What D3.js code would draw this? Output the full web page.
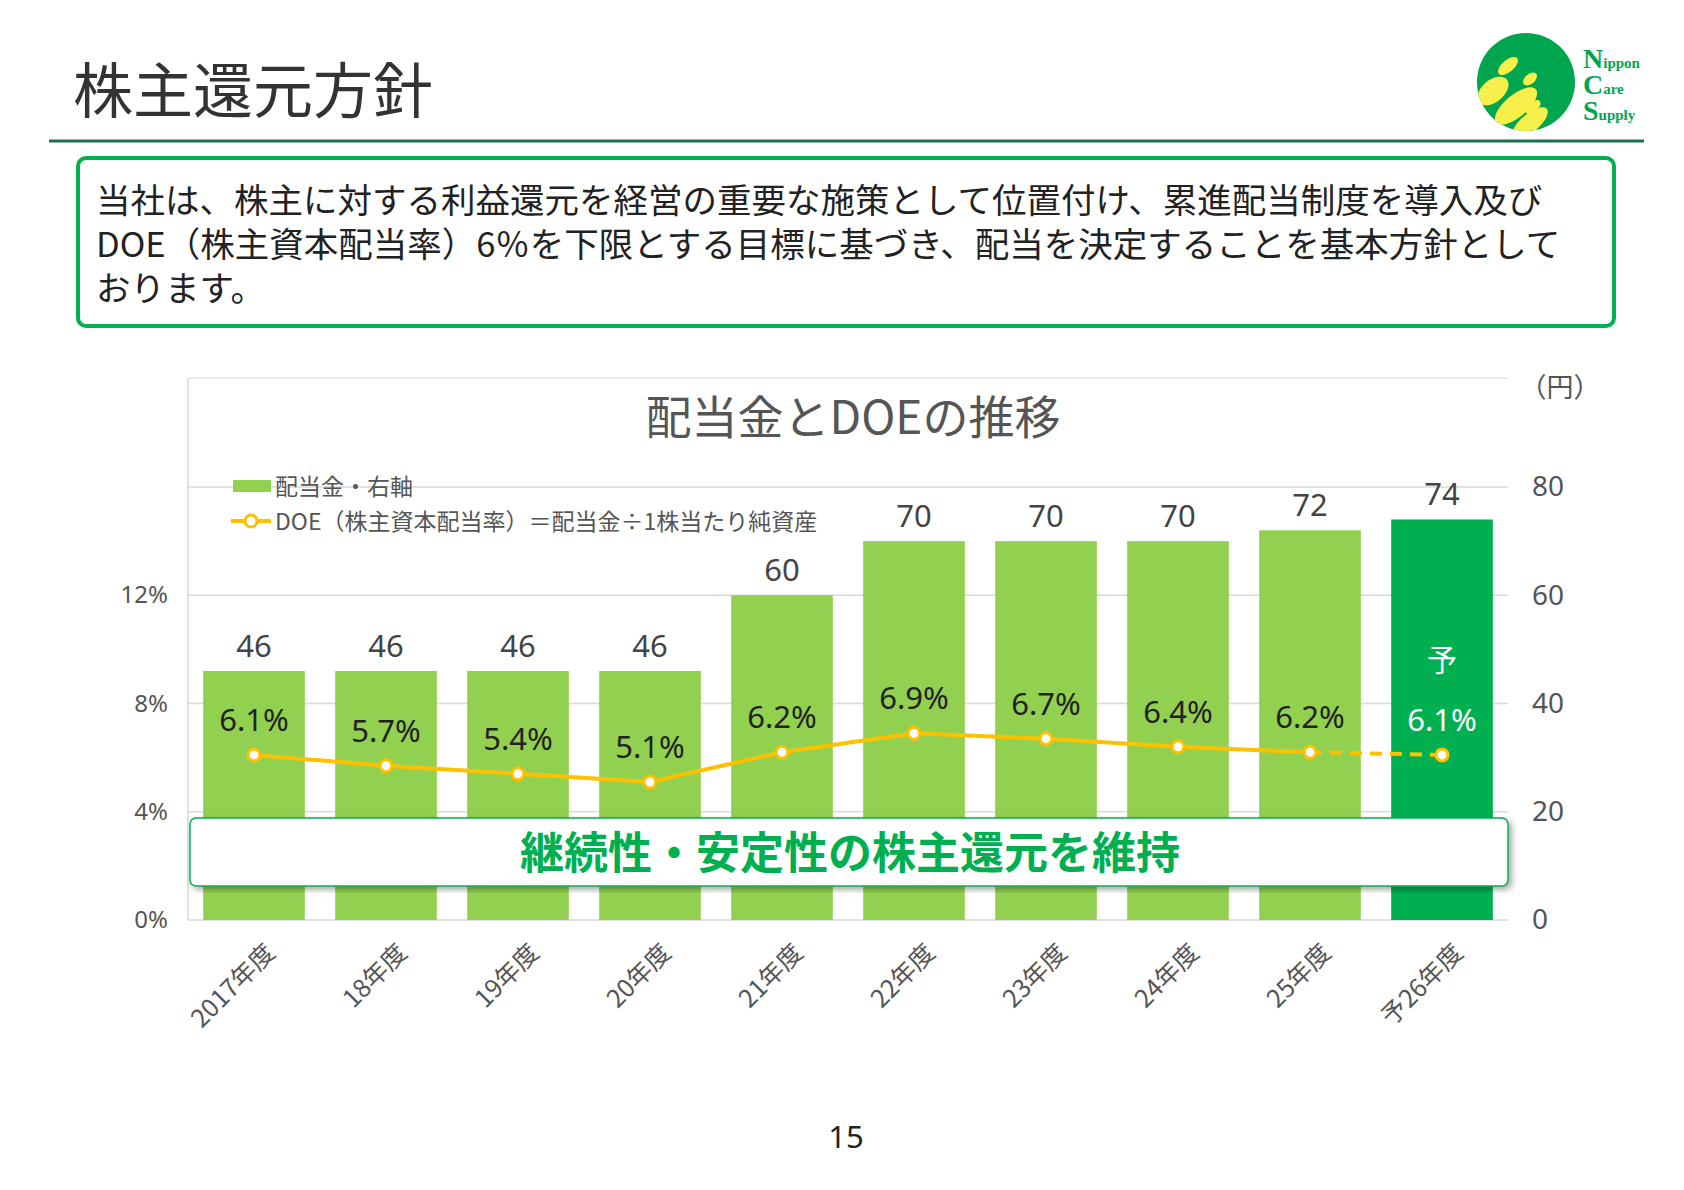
<!DOCTYPE html><html><head><meta charset="utf-8"><script src="https://cdn.jsdelivr.net/npm/d3@7"></script>
<style>body{margin:0;background:#fff}svg{font-family:"Noto Sans CJK JP","Noto Sans",sans-serif}</style></head><body><svg id="c" width="1684" height="1190"></svg>
<script>
const categories=["2017年度","18年度","19年度","20年度","21年度","22年度","23年度","24年度","25年度","予26年度"];
const dividends=[46,46,46,46,60,70,70,70,72,74];
const doe=[6.1,5.7,5.4,5.1,6.2,6.9,6.7,6.4,6.2,6.1];
const leftTicks=[0,4,8,12];
const rightTicks=[0,20,40,60,80];
const svg=d3.select("#c");
const L=188,R=1508,B=920,T=378;
const x=d3.scaleBand().domain(categories).range([L,R]).paddingInner(0.23).paddingOuter(0.115);
const yR=d3.scaleLinear().domain([0,80]).range([B,487]);
const yL=d3.scaleLinear().domain([0,16]).range([B,487]);
svg.append("text").attr("x",73).attr("y",113).attr("font-size",60).attr("fill","#333").text("株主還元方針");
svg.append("line").attr("x1",49).attr("x2",1644).attr("y1",141).attr("y2",141).attr("stroke","#1f6e50").attr("stroke-width",3);
const lg=svg.append("g");
lg.append("circle").attr("cx",1526).attr("cy",82).attr("r",49).attr("fill","#00a64f");
const cp=lg.append("clipPath").attr("id","lc");cp.append("circle").attr("cx",1526).attr("cy",82).attr("r",49);
const ell=lg.append("g").attr("clip-path","url(#lc)").attr("fill","#f7f04a");
[[1508,66,12,6],[1530,79,8,5],[1533,107,9,5],[1493,91,18,11],[1516,106,26,11],[1530,123,22,9]].forEach(e=>ell.append("ellipse").attr("cx",e[0]).attr("cy",e[1]).attr("rx",e[2]).attr("ry",e[3]).attr("transform",`rotate(-40,${e[0]},${e[1]})`));
const lt=svg.append("g").attr("fill","#00a64f").attr("font-family","Liberation Serif,serif").attr("font-weight","bold");
[["N","ippon",68],["C","are",94],["S","upply",120]].forEach(d=>{const t=lt.append("text").attr("x",1583).attr("y",d[2]);t.append("tspan").attr("font-size",28).text(d[0]);t.append("tspan").attr("font-size",15).text(d[1]);});
svg.append("rect").attr("x",78).attr("y",158).attr("width",1536).attr("height",168).attr("rx",8).attr("fill","#fff").attr("stroke","#00b050").attr("stroke-width",4);
["当社は、株主に対する利益還元を経営の重要な施策として位置付け、累進配当制度を導入及び","DOE（株主資本配当率）6％を下限とする目標に基づき、配当を決定することを基本方針として","おります。"].forEach((s,i)=>svg.append("text").attr("x",96).attr("y",213+i*44).attr("font-size",34.5).attr("fill","#222").text(s));
svg.append("line").attr("x1",L).attr("x2",R).attr("y1",T).attr("y2",T).attr("stroke","#d9d9d9");
rightTicks.forEach(v=>svg.append("line").attr("x1",L).attr("x2",R).attr("y1",yR(v)).attr("y2",yR(v)).attr("stroke","#d9d9d9").attr("stroke-width",1.5));
svg.append("line").attr("x1",L).attr("x2",L).attr("y1",T).attr("y2",B).attr("stroke","#d9d9d9").attr("stroke-width",1.5);
const ra=svg.append("g").attr("transform",`translate(${R},0)`).call(d3.axisRight(yR).tickValues(rightTicks).tickSize(0).tickPadding(24));
ra.select(".domain").remove();ra.selectAll("text").attr("font-size",28).attr("fill","#555").attr("font-family","Noto Sans");
const la=svg.append("g").attr("transform",`translate(${L},0)`).call(d3.axisLeft(yL).tickValues(leftTicks).tickSize(0).tickPadding(20).tickFormat(d=>d+"%"));
la.select(".domain").remove();la.selectAll("text").attr("font-size",24).attr("fill","#555").attr("font-family","Noto Sans");
svg.append("text").attr("x",1560).attr("y",397).attr("text-anchor","middle").attr("font-size",27).attr("fill","#555").text("（円）");
svg.append("text").attr("x",853).attr("y",434).attr("text-anchor","middle").attr("font-size",46).attr("fill","#555").text("配当金とDOEの推移");
const last=categories.length-1;
svg.selectAll(".bar").data(dividends).join("rect").attr("x",(d,i)=>x(categories[i])).attr("width",x.bandwidth()).attr("y",d=>yR(d)).attr("height",d=>B-yR(d)).attr("fill",(d,i)=>i===last?"#00b050":"#92d050");
svg.selectAll(".bl").data(dividends).join("text").attr("x",(d,i)=>x(categories[i])+x.bandwidth()/2).attr("y",d=>yR(d)-14).attr("text-anchor","middle").attr("font-size",31).attr("fill","#444").attr("font-family","Noto Sans").text(d=>d);
svg.append("text").attr("x",x(categories[last])+x.bandwidth()/2).attr("y",671).attr("text-anchor","middle").attr("font-size",30).attr("fill","#fff").text("予");
const cx=i=>x(categories[i])+x.bandwidth()/2;
const ln=d3.line().x((d,i)=>cx(i)).y(d=>yL(d));
svg.append("path").attr("d",ln(doe.slice(0,last))).attr("fill","none").attr("stroke","#ffc000").attr("stroke-width",4);
svg.append("path").attr("d",d3.line().x(d=>cx(d)).y(d=>yL(doe[d]))([last-1,last])).attr("fill","none").attr("stroke","#ffc000").attr("stroke-width",4).attr("stroke-dasharray","12,8");
svg.selectAll(".pt").data(doe).join("circle").attr("cx",(d,i)=>cx(i)).attr("cy",d=>yL(d)).attr("r",6).attr("fill","#fff").attr("stroke","#ffc000").attr("stroke-width",3);
svg.selectAll(".pl").data(doe).join("text").attr("x",(d,i)=>cx(i)).attr("y",d=>yL(d)-24).attr("text-anchor","middle").attr("font-size",31).attr("fill",(d,i)=>i===last?"#fff":"#222").attr("font-family","Noto Sans").text(d=>d.toFixed(1)+"%");
svg.append("rect").attr("x",233).attr("y",480).attr("width",38).attr("height",12).attr("fill","#92d050");
svg.append("text").attr("x",275).attr("y",495).attr("font-size",23).attr("fill","#555").text("配当金・右軸");
svg.append("line").attr("x1",231).attr("x2",271).attr("y1",521).attr("y2",521).attr("stroke","#ffc000").attr("stroke-width",4);
svg.append("circle").attr("cx",251).attr("cy",521).attr("r",6).attr("fill","#fff").attr("stroke","#ffc000").attr("stroke-width",3);
svg.append("text").attr("x",275).attr("y",530).attr("font-size",23).attr("fill","#555").text("DOE（株主資本配当率）＝配当金÷1株当たり純資産");
svg.append("defs").append("filter").attr("id","sh").append("feDropShadow").attr("dx",3).attr("dy",3).attr("stdDeviation",3).attr("flood-opacity",0.35);
svg.append("rect").attr("x",190).attr("y",818).attr("width",1318).attr("height",68).attr("rx",6).attr("fill","#fff").attr("stroke","#00b050").attr("stroke-width",1.5).attr("filter","url(#sh)");
svg.append("text").attr("x",850).attr("y",869).attr("text-anchor","middle").attr("font-size",44).attr("font-weight","bold").attr("fill","#00b050").text("継続性・安定性の株主還元を維持");
svg.selectAll(".xl").data(categories).join("text").attr("transform",(d,i)=>`translate(${cx(i)+10},${B+22}) rotate(-45)`).attr("text-anchor","end").attr("dy","0.7em").attr("font-size",25).attr("fill","#555").text(d=>d);
svg.append("text").attr("x",846).attr("y",1148).attr("text-anchor","middle").attr("font-size",31).attr("fill","#222").attr("font-family","Noto Sans").text("15");
</script></body></html>
